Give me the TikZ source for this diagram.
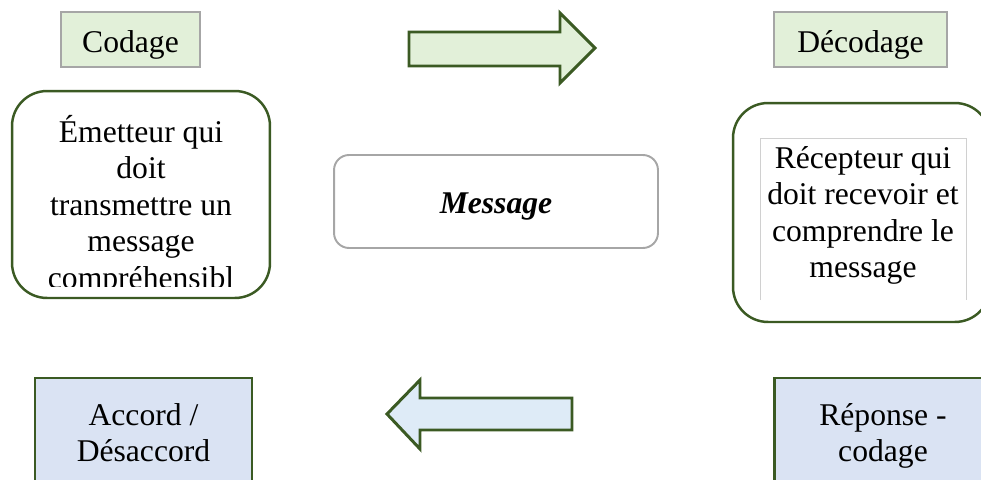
\documentclass[tikz,border=0pt]{standalone}
\usepackage{fontspec}
\setmainfont{Liberation Serif}
\usetikzlibrary{positioning}
\definecolor{leafgreen}{HTML}{3B5A23}
\definecolor{palegreen}{HTML}{E2F0D9}
\definecolor{paleblue}{HTML}{DAE3F3}
\definecolor{skyblue}{HTML}{DEEBF7}
\definecolor{midgray}{HTML}{A6A6A6}
\definecolor{framegray}{HTML}{D0D0D0}
\tikzset{
  bigtext/.style = {
    font=\fontsize{18}{20.8}\selectfont, align=flush center, inner sep=0pt, anchor=base  }
}

\begin{document}
\begin{tikzpicture}[x=0.02cm, y=-0.02cm,
phase_style/.style={draw=midgray, line width=0.7pt, fill=palegreen, minimum height=1.1cm},
actor_style/.style={draw=leafgreen, line width=1.4pt, rounded corners=0.7cm},
answer_style/.style={draw=leafgreen, line width=1.2pt, fill=paleblue, minimum width=4.34cm, minimum height=2.36cm},
flow_style/.style={draw=leafgreen, line width=1.7pt, line join=miter}]

\useasboundingbox (0,0) rectangle (981,480);
\clip (0,0) rectangle (981,480);

\node[phase_style, minimum width=2.78cm] (codage) at (130.5,39.5) {};
\node[bigtext] (codage_txt) at (130.5,52) {Codage};
\node[phase_style, minimum width=3.46cm] (decodage) at (860.5,39.5) {};
\node[bigtext] (decodage_txt) at (860.5,52) {Décodage};

\node[actor_style, minimum width=5.16cm, minimum height=4.14cm] (emetteur) at (141,194.5) {};
\begin{scope}
\clip (12,91) rectangle (270,286);
\node[bigtext, text width=5cm] (emetteur_txt) at (141,142)
  {Émetteur qui\\doit\\transmettre un\\message\\compréhensibl};
\end{scope}

\node[draw=midgray, line width=1.1pt, rounded corners=0.3cm,
  minimum width=6.48cm, minimum height=1.86cm] (message) at (496,201.5) {};
\node[bigtext, font=\fontsize{18}{20.8}\selectfont\bfseries\itshape] (message_txt) at (496,213) {Message};

\node[actor_style, minimum width=5.14cm, minimum height=4.38cm] (recepteur) at (861.5,212.5) {};
\draw[framegray, line width=0.5pt] (760,300) -- (760,138) -- (966,138) -- (966,300);
\node[bigtext, text width=4.1cm] (recepteur_txt) at (863,168)
  {Récepteur qui\\doit recevoir et\\comprendre le\\message};

\node[answer_style] (accord) at (143.5,437) {};
\node[bigtext, text width=4cm] (accord_txt) at (143.5,425) {Accord /\\Désaccord};
\node[answer_style] (reponse) at (883,437) {};
\node[bigtext, text width=4cm] (reponse_txt) at (883,425) {Réponse -\\codage};

\draw[flow_style, fill=palegreen] (409,32) -- (560,32) -- (560,13) -- (595,48)
  -- (560,83) -- (560,66) -- (409,66) -- cycle;
\draw[flow_style, fill=skyblue] (572,398) -- (420,398) -- (420,380) -- (387,414)
  -- (420,449) -- (420,430) -- (572,430) -- cycle;
\end{tikzpicture}
\end{document}
